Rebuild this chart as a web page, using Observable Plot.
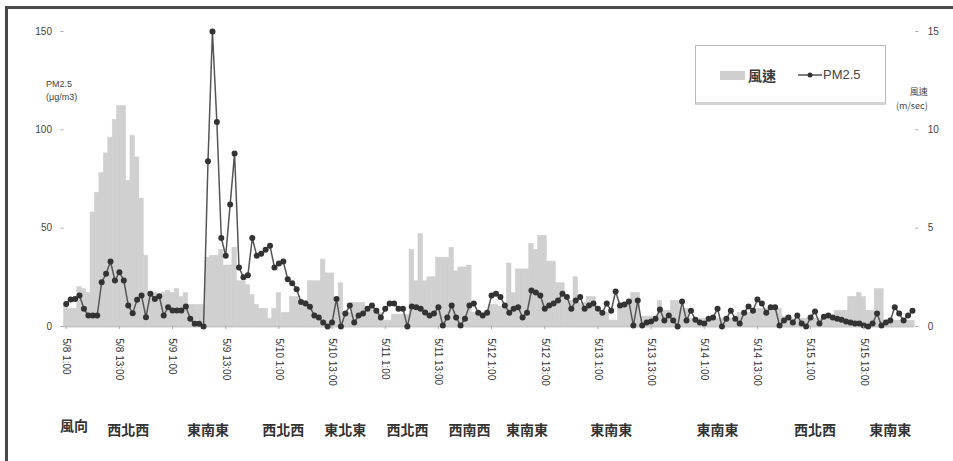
<!DOCTYPE html>
<html><head><meta charset="utf-8">
<script src="https://cdn.jsdelivr.net/npm/d3@7"></script>
<script src="https://cdn.jsdelivr.net/npm/@observablehq/plot@0.6"></script>
<style>
body{margin:0;background:#fff;font-family:"Liberation Sans","Noto Sans CJK TC",sans-serif;}
#wrap{position:relative;width:953px;height:461px;overflow:hidden;background:#fff;}
#frame{position:absolute;left:5px;top:6px;width:980px;height:480px;border-left:3px solid #4a4a4a;border-top:3px solid #4a4a4a;pointer-events:none;}
#chart{position:absolute;left:0;top:0;}
#legend{position:absolute;left:695px;top:45px;width:189px;height:56px;border:1px solid #b8b8b8;border-bottom:3px solid #d2d2d2;background:#fff;font-family:"Noto Sans CJK TC","Liberation Sans",sans-serif;color:#444;}
#legend .sw{position:absolute;left:24px;top:25px;width:25px;height:9px;background:#cfcfcf;}
#legend .t1{position:absolute;left:52px;top:20px;font-size:14px;font-weight:bold;line-height:18px;color:#3a3a3a;}
#legend svg{position:absolute;left:102px;top:22px;}
#legend .t2{position:absolute;left:127px;top:21px;font-size:13px;line-height:16px;font-family:"Liberation Sans",sans-serif;color:#444;}
</style></head>
<body>
<div id="wrap">
  <div id="chart"></div>
  <div id="legend"><div class="sw"></div><div class="t1">風速</div>
    <svg width="24" height="14"><line x1="0" y1="7" x2="24" y2="7" stroke="#555" stroke-width="1.5"/><circle cx="12" cy="7" r="2.5" fill="#333"/></svg>
    <div class="t2">PM2.5</div></div>
  <div id="frame"></div>
</div>
<script>
// PM2.5 (μg/m3), hourly
const pm25 = [
 11.5, 13.7, 14, 15.7, 9, 5.6, 5.6, 5.6, 22.5, 26.8, 33, 23.4, 27.6, 23.4, 10.7, 6.8,
 13.6, 15.7, 4.7, 16.6, 14, 15.4, 5.6, 9.8, 8.1, 8.1, 8.1, 10.2, 3.9, 1.4, 1.4, 0,
 84, 150, 104, 45, 36, 62, 88, 30, 25, 26, 45, 36, 37, 39, 41, 30, 32, 33, 24, 22, 19,
 12.4, 11.7, 10, 5.6, 4.6, 2, 0, 2, 14, 0, 6.6, 10.7, 2, 5.6, 6.6, 9, 10.7, 8, 4.6, 9,
 11.7, 11.7, 9, 9, 0, 10.2, 9.8, 9, 7.1, 5.6, 6.6, 9.8, 0.5, 4.6, 10.7, 4.6, 0.5, 4,
 10.7, 11.7, 7, 5.6, 7, 15.7, 16.6, 15, 10.7, 7, 9, 9.8, 4.6, 7, 18.3, 17.3, 15.7, 9,
 10.7, 11.7, 13.2, 16.6, 15, 9, 13.2, 15, 9, 10.7, 11.7, 9, 7, 11.7, 8, 17.8, 10.7,
 11.2, 12.7, 0.5, 13.2, 0.5,
 2, 2.5, 4, 8.6, 3, 5.6, 3, 0, 12.7, 3, 8, 3.4, 2, 1.5, 4, 4.6, 9, 0, 4, 8, 4, 1.5, 7,
 10.2, 8, 13.7, 11.7, 7, 9.8, 9.8, 0.5, 3, 4.6, 2, 5.6, 1.5, 0, 4.6, 7.6, 1.5, 5, 5.6,
 4.6, 4, 3.4, 2.5, 2, 1.5, 1.5, 0.5, 0, 1.5, 6.6, 0.5, 2, 3, 9.8, 6.6, 3, 5.6, 8
];
// wind speed (m/sec), hourly
const wind = [
 1.0, 0.9, 0.9, 2.0, 1.9, 1.7,
 5.8, 6.8, 7.8, 8.8, 9.6, 10.5, 11.2, 11.2, 7.4, 9.7, 8.6, 6.5, 3.6, 1.7,
 1.7, 1.6, 1.7, 1.8, 1.7, 1.9, 1.5, 1.7,
 1.1, 1.1, 1.1, 1.1,
 3.5, 3.6, 3.6, 3.9, 3.1, 3.1, 4.0, 2.3, 2.3, 2.1, 1.6, 1.1, 0.9, 0.9, 0.4, 0.9,
 1.7, 0.7, 0.7, 1.5, 1.5, 1.3, 1.3, 2.3, 2.3, 2.3,
 3.4, 2.7, 2.7, 1.2, 2.2, 0.7, 0.7, 1.2, 1.2, 1.2, 1.0, 1.0, 0.7, 0.7,
 0.3, 0.3, 0.6, 0.6, 0.6, 0.6,
 3.9, 2.3, 4.7, 2.3, 2.5, 2.5, 3.5, 3.5, 3.5, 4.0, 2.8, 3.0, 3.0, 3.1,
 0.7, 0.7, 0.7, 0.7, 1.1, 1.1, 1.0, 1.0,
 3.2, 1.7, 2.9, 2.9, 2.9, 4.2, 3.9, 4.6, 4.6, 3.3, 3.3, 2.2, 2.2, 1.3, 1.3, 2.5,
 1.2, 1.2, 1.5, 1.5, 0.7, 0.7, 0.7, 0.3, 0.3, 1.0, 1.2, 1.2, 1.7, 1.7,
 0.5, 0.5, 0.5, 0.5, 1.3, 0.8, 0.8, 1.3, 1.3, 0.9, 0.9,
 0.4, 0.4, 0.4, 0.4, 0.4, 0.4, 0.4, 0.4, 0.4, 0.4, 0.4,
 0.7, 0.7, 0.7, 0.7,
 0.9, 0.9, 0.9, 0.9, 0.9, 0.9,
 0.5, 0.5,
 0.4, 0.4, 0.4, 0.4, 0.4, 0.4, 0.4, 0.4, 0.4, 0.4,
 0.8, 0.8, 0.8,
 1.5, 1.5, 1.7, 1.5, 0.8, 0.8, 1.9, 1.9,
 0.3, 0.3, 0.3, 0.3, 0.3, 0.3, 0.3
];
// x tick positions (hour index) and labels
const tickHours = [0, 12, 24, 36, 48, 60, 72, 84, 96, 108, 120, 132, 144, 156, 168, 180];
const tickLabels = ["5/8 1:00","5/8 13:00","5/9 1:00","5/9 13:00","5/10 1:00","5/10 13:00",
  "5/11 1:00","5/11 13:00","5/12 1:00","5/12 13:00","5/13 1:00","5/13 13:00",
  "5/14 1:00","5/14 13:00","5/15 1:00","5/15 13:00"];
// wind direction by period (hour index where label sits)
const dirHours = [14, 32, 49, 63, 77, 91, 104, 123, 147, 169, 186];
const dirNames = ["西北西","東南東","西北西","東北東","西北西","西南西","東南東","東南東","東南東","西北西","東南東"];
const pmTicks = [0, 50, 100, 150];
const windScale = 10; // 15 m/sec on right axis ↔ 150 on left axis

const data = pm25.map((v, i) => ({i, pm: v, w: wind[i]}));
const dirs = dirHours.map((h, k) => ({h, name: dirNames[k]}));
const cjk = '"Noto Sans CJK TC", sans-serif';

const chart = Plot.plot({
  width: 953, height: 461,
  marginLeft: 63.5, marginRight: 38.8, marginTop: 31, marginBottom: 135,
  x: {domain: [-0.5, pm25.length - 0.5]},
  y: {domain: [0, 150]},
  style: {fontFamily: '"Liberation Sans", "Noto Sans CJK TC", sans-serif', fontSize: "10px", color: "#444", background: "transparent"},
  marks: [
    Plot.rectY(data, {x1: d => d.i - 0.5, x2: d => d.i + 0.5, y: d => d.w * windScale, fill: "#d0d0d0", stroke: "#d0d0d0", strokeWidth: 0.6}),
    Plot.ruleY([0], {stroke: "#c8c8c8", strokeWidth: 2}),
    Plot.line(data, {x: "i", y: "pm", stroke: "#555", strokeWidth: 1.5}),
    Plot.dot(data, {x: "i", y: "pm", r: 3, fill: "#333"}),
    Plot.axisX(tickHours, {anchor: "bottom", tickFormat: d => tickLabels[tickHours.indexOf(d)], tickRotate: 90, tickSize: 3, tickPadding: 9, stroke: "#aaa", fill: "#333", label: null}),
    Plot.axisY(pmTicks, {anchor: "left", tickSize: 3, tickPadding: 9, stroke: "#aaa", fill: "#444", label: null}),
    Plot.axisY(pmTicks, {anchor: "right", tickFormat: d => d / windScale, tickSize: 3, tickPadding: 10, stroke: "#aaa", fill: "#444", label: null}),
    Plot.text(dirs, {x: "h", y: () => 0, text: "name", dy: 104, fontSize: 14, fontWeight: "bold", fill: "#333", fontFamily: cjk}),
    Plot.text(["風向"], {frameAnchor: "bottom-left", dx: -4, dy: 104, fontSize: 14, fontWeight: "bold", fill: "#333", fontFamily: cjk}),
    Plot.text(["PM2.5\n(μg/m3)"], {frameAnchor: "top-left", dx: -18, dy: 47, lineHeight: 1.4, fontSize: 9, fill: "#444"}),
    Plot.text(["風速\n(m/sec)"], {frameAnchor: "top-right", dx: 13, dy: 53, lineHeight: 1.6, fontSize: 9, fill: "#444", fontFamily: cjk})
  ]
});
document.getElementById("chart").appendChild(chart);
</script>
</body></html>
